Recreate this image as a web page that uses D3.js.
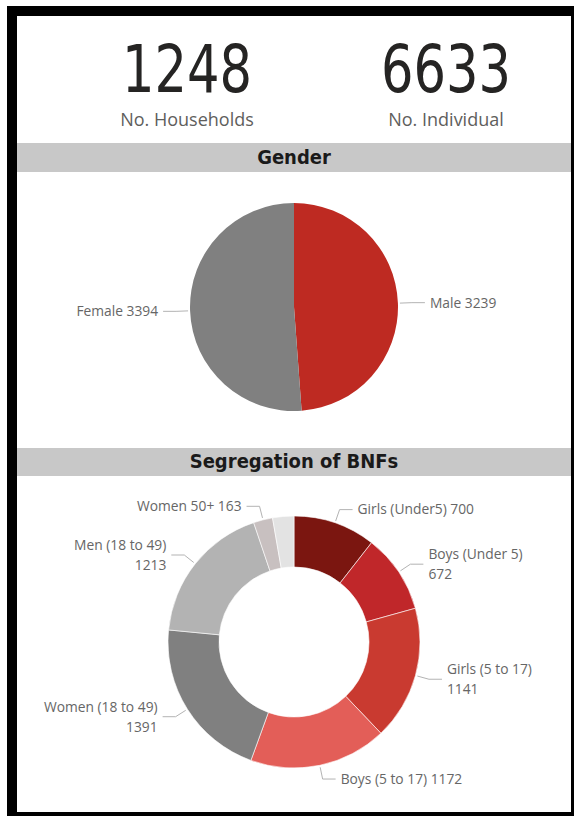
<!DOCTYPE html>
<html>
<head>
<meta charset="utf-8">
<script src="https://cdn.jsdelivr.net/npm/d3@7"></script>
<style>
  body { margin: 0; background: #fff; }
</style>
</head>
<body>
<div id="canvas"></div>
<script>
const width = 574;
const height = 816;

// KPI cards
const kpiValues = [1248, 6633];
const kpiLabels = ["No. Households", "No. Individual"];

// gender pie
const genderCats = ["Male", "Female"];
const genderValues = [3239, 3394];
const genderColors = ["#be2a22", "#808080"];

// segregation donut
const bnfCats = ["Girls (Under5)", "Boys (Under 5)", "Girls (5 to 17)", "Boys (5 to 17)",
    "Women (18 to 49)", "Men (18 to 49)", "Women 50+", "Men 50+"];
const bnfValues = [700, 672, 1141, 1172, 1391, 1213, 163, 181];
const bnfColors = ["#7b1610", "#c0272a", "#c93a30", "#e35e58",
    "#808080", "#b3b3b3", "#c8c0c0", "#e3e3e3"];
const wrappedLabels = ["Boys (Under 5)", "Girls (5 to 17)", "Women (18 to 49)", "Men (18 to 49)"];
const hiddenLabels = ["Men 50+"];

const svg = d3.select("#canvas")
    .append("svg")
    .attr("width", width)
    .attr("height", height);

// black frame
svg.append("rect")
    .attr("x", 7).attr("y", 6)
    .attr("width", width - 7).attr("height", height - 6)
    .attr("fill", "#000");
svg.append("rect")
    .attr("x", 17).attr("y", 16)
    .attr("width", 554).attr("height", 796)
    .attr("fill", "#fff");

// KPI cards
var kpiX = d3.scalePoint()
    .domain(kpiLabels)
    .range([187, 446]);

kpiLabels.forEach((lab, i) => {
    svg.append("text")
        .attr("x", kpiX(lab))
        .attr("y", 92)
        .attr("text-anchor", "middle")
        .attr("font-family", "'DejaVu Sans Condensed', 'DejaVu Sans', sans-serif")
        .attr("font-size", "66px")
        .attr("fill", "#252423")
        .attr("textLength", 130)
        .attr("lengthAdjust", "spacingAndGlyphs")
        .text(kpiValues[i]);
    svg.append("text")
        .attr("x", kpiX(lab))
        .attr("y", 126)
        .attr("text-anchor", "middle")
        .attr("font-family", "'Open Sans', sans-serif")
        .attr("font-size", "18px")
        .attr("fill", "#605e5c")
        .text(lab);
});

function header(title, y0, y1) {
    svg.append("rect")
        .attr("x", 17).attr("y", y0)
        .attr("width", 554).attr("height", y1 - y0)
        .attr("fill", "#c8c8c8");
    svg.append("text")
        .attr("x", 294)
        .attr("y", (y0 + y1) / 2 + 6)
        .attr("text-anchor", "middle")
        .attr("font-family", "'DejaVu Sans Condensed', 'DejaVu Sans', sans-serif")
        .attr("font-weight", "bold")
        .attr("font-size", "20px")
        .attr("fill", "#1a1a1a")
        .text(title);
}

header("Gender", 143, 172);
header("Segregation of BNFs", 448, 476);

// label with leader line, placed at slice mid angle
function drawLabel(g, d, R, lines) {
    var a = (d.startAngle + d.endAngle) / 2;
    var side = Math.sin(a) >= 0 ? 1 : -1;
    var p0 = [Math.sin(a) * (R + 2), -Math.cos(a) * (R + 2)];
    var p1 = [Math.sin(a) * (R + 14), -Math.cos(a) * (R + 14)];
    var p2 = [p1[0] + side * 13, p1[1]];
    g.append("polyline")
        .attr("points", [p0, p1, p2].map(p => p.join(",")).join(" "))
        .attr("fill", "none")
        .attr("stroke", "#b3b3b3")
        .attr("stroke-width", 1);
    var lh = 20;
    var top = p1[1] - (lines.length - 1) * lh / 2;
    var t = g.append("text")
        .attr("font-family", "'Open Sans', sans-serif")
        .attr("font-size", "13.8px")
        .attr("fill", "#666")
        .attr("text-anchor", side > 0 ? "start" : "end");
    lines.forEach((ln, k) => {
        t.append("tspan")
            .attr("x", p2[0] + side * 5)
            .attr("y", top + k * lh)
            .attr("dy", "0.35em")
            .text(ln);
    });
}

// gender pie
var genderPie = d3.pie().sort(null).value(d => d)(genderValues);
var gR = 104;
var gG = svg.append("g").attr("transform", "translate(294,307)");
gG.selectAll("path")
    .data(genderPie)
    .join("path")
    .attr("d", d3.arc().innerRadius(0).outerRadius(gR))
    .attr("fill", (d, i) => genderColors[i]);
genderPie.forEach((d, i) => {
    drawLabel(gG, d, gR, [genderCats[i] + " " + genderValues[i]]);
});

// segregation donut
var bnfPie = d3.pie().sort(null).value(d => d)(bnfValues);
var bR = 126;
var bG = svg.append("g").attr("transform", "translate(294,642)");
bG.selectAll("path")
    .data(bnfPie)
    .join("path")
    .attr("d", d3.arc().innerRadius(75).outerRadius(bR))
    .attr("fill", (d, i) => bnfColors[i])
    .attr("stroke", "#fff")
    .attr("stroke-width", 0.6);
bnfPie.forEach((d, i) => {
    var cat = bnfCats[i];
    if (hiddenLabels.includes(cat)) return;
    var lines = wrappedLabels.includes(cat)
        ? [cat, String(bnfValues[i])]
        : [cat + " " + bnfValues[i]];
    drawLabel(bG, d, bR, lines);
});
</script>
</body>
</html>
